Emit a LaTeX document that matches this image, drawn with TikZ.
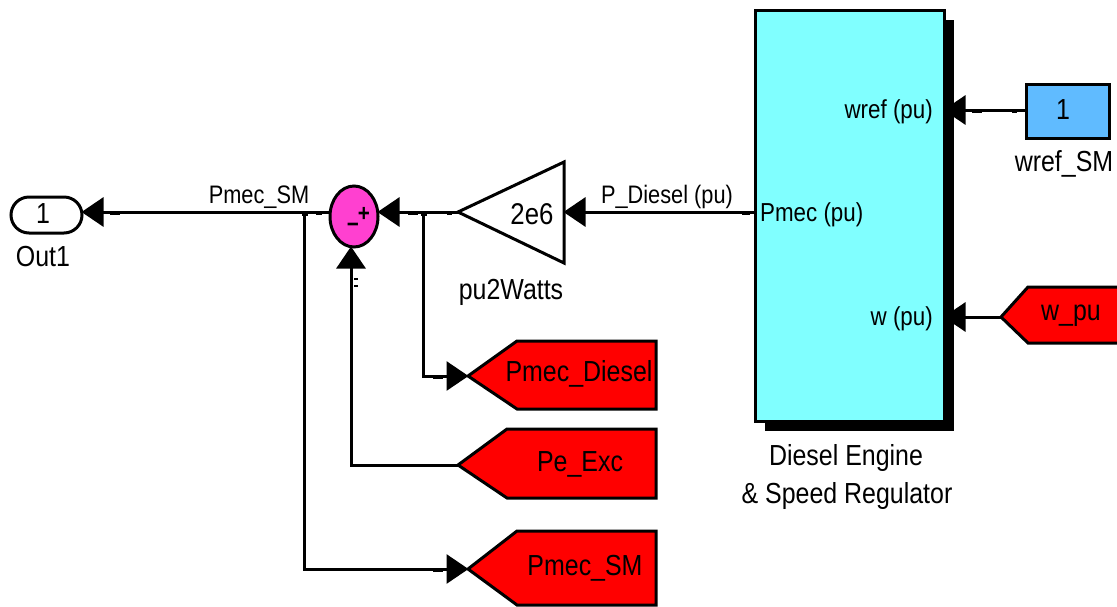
\documentclass[tikz,border=0pt]{standalone}
\usepackage{fontspec}
\setmainfont[FakeStretch=0.86]{Liberation Sans}
\usetikzlibrary{arrows.meta,shapes.geometric,shapes.misc}
\definecolor{tagred}{RGB}{255,0,0}
\definecolor{blockcyan}{RGB}{128,255,255}
\definecolor{constblue}{RGB}{96,187,255}
\definecolor{summagenta}{RGB}{255,64,208}
\tikzset{
  wire/.style={line width=3pt},
  sig/.style={wire, -{Triangle[length=22pt,width=29pt]}, shorten >=-0.5pt},
  box/.style={draw, line width=3pt, inner sep=0pt, outer sep=0pt},
  lbl/.style={inner sep=0pt, font=\fontsize{29}{29}\selectfont},
  portlbl/.style={inner sep=0pt, font=\fontsize{26}{26}\selectfont},
  tiny/.style={inner sep=0pt, font=\fontsize{25.3}{25.3}\selectfont},
}
% goto tag: tip x, y, half height above, half height below, shoulder x, name
\newcommand{\tagblock}[6]{
  \draw[box, fill=tagred, line join=miter] (#1,#2) -- (#5,#2-#3) -- (656,#2-#3) -- (656,#2+#4) -- (#5,#2+#4) -- cycle;
  \coordinate (#6) at (#1,#2);
}
\begin{document}
\begin{tikzpicture}[x=1pt, y=-1pt]
  \useasboundingbox (0,0) rectangle (1117,606);
  % engine block with shadow
  \fill[black] (765,20) rectangle (954,431);
  \node[box, fill=blockcyan, minimum width=189pt, minimum height=411pt, anchor=north west] (engine) at (755,10) {};
  \coordinate (wrefport) at (944,110);
  \coordinate (wport) at (944,317);
  \coordinate (pmecport) at (755,212);
  \node[portlbl, anchor=west] (pmeclbl) at (760,215) {Pmec (pu)};
  \node[portlbl, anchor=east] (wreflbl) at (933,112) {wref (pu)};
  \node[portlbl, anchor=east] (wlbl) at (933,319) {w (pu)};
  \node[lbl] (engname) at (846,458) {Diesel Engine};
  \node[lbl] (engname2) at (847,496) {\& Speed Regulator};

  % constant and w_pu
  \node[box, fill=constblue, minimum width=83pt, minimum height=54pt, anchor=north west] (wref) at (1026,84) {};
  \node[lbl] (wrefval) at (1063,110) {1};
  \node[lbl] (wrefname) at (1064,164) {wref\_SM};
  \draw[box, fill=tagred] (1001,317) -- (1028,287) -- (1119,287) -- (1119,343) -- (1028,343) -- cycle;
  \coordinate (wpu) at (1001,317);
  \node[lbl] (wpulbl) at (1071,316) {w\_pu};

  % gain
  \draw[box, fill=white] (458,212) -- (564,162) -- (564,263) -- cycle;
  \coordinate (gainin) at (564,212);
  \coordinate (gainout) at (458,212);
  \node[lbl, font=\fontsize{30}{30}\selectfont] (gainval) at (532,214) {2e6};
  \node[lbl] (gainname) at (511,292) {pu2Watts};

  % sum
  \node[ellipse, box, fill=summagenta, minimum width=48pt, minimum height=61pt] (sum) at (354,216.5) {};
  \node[inner sep=0pt, font=\fontsize{24}{24}\bfseries\selectfont] (plus) at (364,214) {+};
  \node[inner sep=0pt, font=\fontsize{24}{24}\bfseries\selectfont] (minus) at (353,228) {\textminus};
  \coordinate (sumin) at (378,212);
  \coordinate (sumout) at (330,212);
  \coordinate (sumlow) at (351,247);

  % outport
  \node[rounded rectangle, box, fill=white, minimum width=71pt, minimum height=36pt, anchor=west] (out) at (11,215) {};
  \node[lbl] (outval) at (43,214) {1};
  \node[lbl] (outname) at (43,257) {Out1};

  % tags
  \tagblock{468}{376}{35}{33}{517}{diesel}
  \tagblock{458}{465}{36}{33}{507}{exc}
  \tagblock{468}{569}{38}{36}{517}{pmecsm}
  \node[lbl] (diesellbl) at (579,374) {Pmec\_Diesel};
  \node[lbl] (exclbl) at (580,464) {Pe\_Exc};
  \node[lbl] (pmecsmlbl) at (585,568) {Pmec\_SM};

  % connectors
  \coordinate (branchsm) at (304,212);
  \coordinate (branchdi) at (423,212);
  \draw[sig] (sumout) -- (82,212);
  \draw[sig] (gainout) -- (sumin);
  \draw[sig] (pmecport) -- (gainin);
  \draw[sig] (wref.west |- wrefport) -- (wrefport);
  \draw[sig] (wpu) -- (wport);
  \draw[sig] (branchdi) |- (diesel);
  \draw[sig] (branchsm) |- (pmecsm);
  \draw[sig] (exc) -| (sumlow);

  % wire labels
  \node[tiny] (pmecsmwire) at (259,197) {Pmec\_SM};
  \node[tiny] (pdieselwire) at (667,197) {P\_Diesel (pu)};

  % small marks on the wires
  \foreach \xa/\ya/\xb/\yb in {110/214/120/214, 316/214/322/214, 408/214/418/214, 447/214/452/214,
    742/214/750/214, 972/112/982/112, 1012/112/1017/112, 972/318/981/318, 988/318/993/318,
    433/378/443/378, 433/571/443/571, 447/466/450/466, 354/286/358/286, 354/279/358/279, 302/215/308/215, 421/215/427/215}
    \draw[line width=2.5pt] (\xa,\ya) -- (\xb,\yb);
\end{tikzpicture}
\end{document}
